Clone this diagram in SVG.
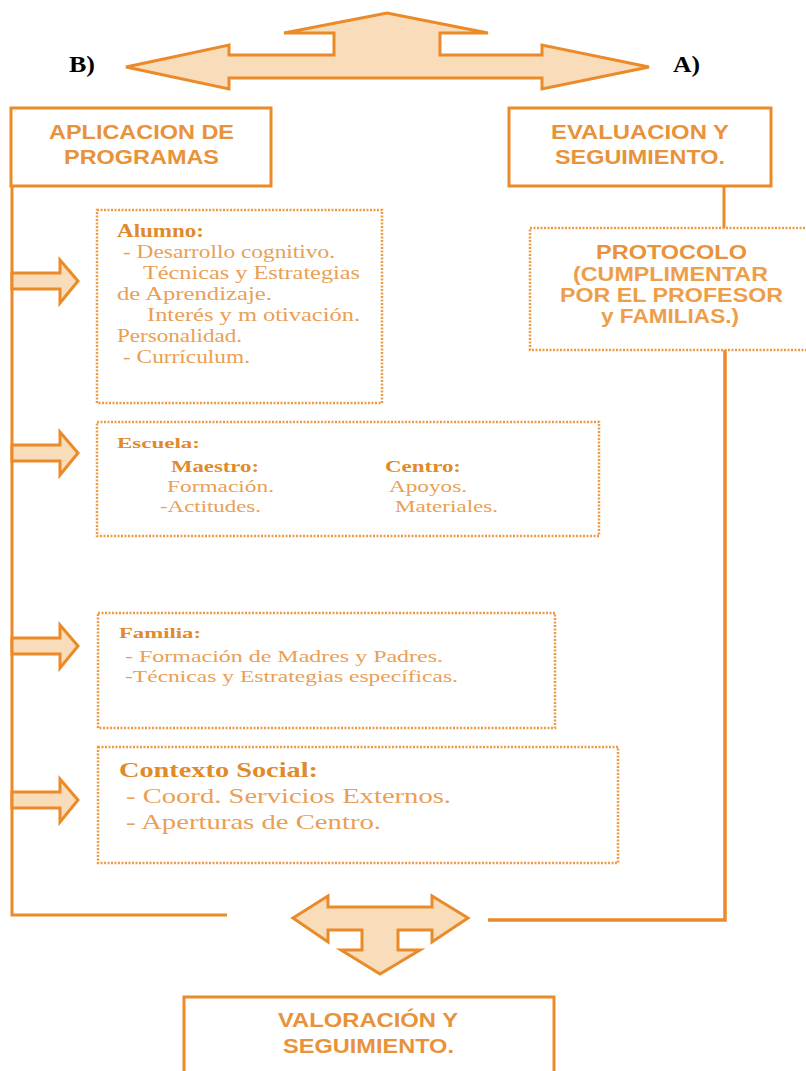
<svg xmlns="http://www.w3.org/2000/svg" width="806" height="1071" viewBox="0 0 806 1071">
<style>
.box{fill:none;stroke:#EA8A28;stroke-width:3}
.dot{fill:none;stroke:#EE9A45;stroke-width:2.5;stroke-dasharray:2 1.5}
.line{fill:none;stroke:#EA8A28;stroke-width:3}
.arr{fill:#F9DDBA;stroke:#EA8A28;stroke-width:3;stroke-linejoin:miter}
.hd{font-family:"Liberation Sans",Arial,sans-serif;font-weight:bold;font-size:21px;fill:#E8923A;text-anchor:start}
.pt{font-family:"Liberation Sans",Arial,sans-serif;font-weight:bold;font-size:20px;fill:#EE9E48}
.sb{font-family:"Liberation Serif","Times New Roman",serif;font-weight:bold;fill:#E08A2C}
.sr{font-family:"Liberation Serif","Times New Roman",serif;fill:#E9A055}
.lb{font-family:"Liberation Serif","Times New Roman",serif;font-weight:bold;font-size:23px;fill:#000}
</style>
<g id="top-arrow">
<polygon class="arr" points="126,67 229,45 229,55 334,55 334,33 284,33 387,13 488,33 440,33 440,55 542,55 542,45 649,67 542,89 542,78 229,78 229,89"/>
<text class="lb" x="69" y="72" textLength="26" lengthAdjust="spacingAndGlyphs">B)</text>
<text class="lb" x="673" y="72" textLength="27" lengthAdjust="spacingAndGlyphs">A)</text>
</g>
<g id="connectors">
<polyline class="line" points="12,186 12,915 227,915"/>
<polyline class="line" points="724,186 724,228"/>
<polyline class="line" points="725,350 725,920 488,920" style="stroke-width:3.5"/>
<polygon class="arr" points="12,273 60,273 60,260 78,281 60,303 60,289 12,289"/>
<polygon class="arr" points="12,445 60,445 60,432 78,453 60,475 60,461 12,461"/>
<polygon class="arr" points="12,638 60,638 60,625 78,646 60,668 60,654 12,654"/>
<polygon class="arr" points="12,792 60,792 60,779 78,800 60,822 60,808 12,808"/>
</g>
<g id="aplicacion">
<rect class="box" x="11" y="108" width="260" height="78"/>
<text class="hd" x="49" y="139" textLength="185" lengthAdjust="spacingAndGlyphs">APLICACION DE</text>
<text class="hd" x="64" y="164" textLength="155" lengthAdjust="spacingAndGlyphs">PROGRAMAS</text>
</g>
<g id="evaluacion">
<rect class="box" x="509" y="108" width="262" height="78"/>
<text class="hd" x="551" y="139" textLength="178" lengthAdjust="spacingAndGlyphs">EVALUACION Y</text>
<text class="hd" x="555" y="164" textLength="170" lengthAdjust="spacingAndGlyphs">SEGUIMIENTO.</text>
</g>
<g id="protocolo">
<rect class="dot" x="530" y="228" width="284" height="122"/>
<text class="hd" x="596" y="259" textLength="151" lengthAdjust="spacingAndGlyphs">PROTOCOLO</text>
<text class="pt" x="573" y="281" textLength="195" lengthAdjust="spacingAndGlyphs">(CUMPLIMENTAR</text>
<text class="pt" x="560" y="302" textLength="223" lengthAdjust="spacingAndGlyphs">POR EL PROFESOR</text>
<text class="pt" x="601" y="323" textLength="138" lengthAdjust="spacingAndGlyphs">y FAMILIAS.)</text>
</g>
<g id="alumno">
<rect class="dot" x="97" y="210" width="285" height="193"/>
<text class="sb" x="117" y="237" font-size="18" textLength="87" lengthAdjust="spacingAndGlyphs">Alumno:</text>
<text class="sr" x="123" y="258" font-size="18" textLength="212" lengthAdjust="spacingAndGlyphs">- Desarrollo cognitivo.</text>
<text class="sr" x="143" y="279" font-size="18" textLength="217" lengthAdjust="spacingAndGlyphs">Técnicas  y Estrategias</text>
<text class="sr" x="117" y="300" font-size="18" textLength="155" lengthAdjust="spacingAndGlyphs">de  Aprendizaje.</text>
<text class="sr" x="147" y="321" font-size="18" textLength="213" lengthAdjust="spacingAndGlyphs">Interés  y m otivación.</text>
<text class="sr" x="117" y="342" font-size="18" textLength="125" lengthAdjust="spacingAndGlyphs">Personalidad.</text>
<text class="sr" x="123" y="363" font-size="18" textLength="127" lengthAdjust="spacingAndGlyphs">- Currículum.</text>
</g>
<g id="escuela">
<rect class="dot" x="97" y="422" width="502" height="114"/>
<text class="sb" x="117" y="448" font-size="15" textLength="83" lengthAdjust="spacingAndGlyphs">Escuela:</text>
<text class="sb" x="171" y="472" font-size="17" textLength="88" lengthAdjust="spacingAndGlyphs">Maestro:</text>
<text class="sb" x="385" y="472" font-size="17" textLength="76" lengthAdjust="spacingAndGlyphs">Centro:</text>
<text class="sr" x="167" y="492" font-size="16" textLength="107" lengthAdjust="spacingAndGlyphs">Formación.</text>
<text class="sr" x="389" y="492" font-size="16" textLength="78" lengthAdjust="spacingAndGlyphs">Apoyos.</text>
<text class="sr" x="160" y="512" font-size="16" textLength="101" lengthAdjust="spacingAndGlyphs">-Actitudes.</text>
<text class="sr" x="395" y="512" font-size="16" textLength="103" lengthAdjust="spacingAndGlyphs">Materiales.</text>
</g>
<g id="familia">
<rect class="dot" x="98" y="613" width="457" height="115"/>
<text class="sb" x="119" y="638" font-size="15" textLength="82" lengthAdjust="spacingAndGlyphs">Familia:</text>
<text class="sr" x="125" y="662" font-size="17" textLength="318" lengthAdjust="spacingAndGlyphs">- Formación de Madres  y Padres.</text>
<text class="sr" x="125" y="682" font-size="17" textLength="333" lengthAdjust="spacingAndGlyphs">-Técnicas y Estrategias específicas.</text>
</g>
<g id="contexto">
<rect class="dot" x="98" y="747" width="520" height="116"/>
<text class="sb" x="119" y="777" font-size="22" textLength="199" lengthAdjust="spacingAndGlyphs">Contexto Social:</text>
<text class="sr" x="126" y="803" font-size="21" textLength="325" lengthAdjust="spacingAndGlyphs">- Coord. Servicios Externos.</text>
<text class="sr" x="126" y="829" font-size="21" textLength="255" lengthAdjust="spacingAndGlyphs">- Aperturas de Centro.</text>
</g>
<g id="bottom-arrow">
<polygon class="arr" points="293,918 328,896 328,907 432,907 432,896 468,918 432,942 432,930 398,930 398,950 420,950 380,974 341,950 362,950 362,930 328,930 328,942"/>
</g>
<g id="valoracion">
<rect class="box" x="184" y="997" width="370" height="90"/>
<text class="hd" x="278" y="1027" font-size="20" textLength="180" lengthAdjust="spacingAndGlyphs" style="font-size:20px">VALORACIÓN Y</text>
<text class="hd" x="283" y="1053" textLength="171" lengthAdjust="spacingAndGlyphs" style="font-size:20px">SEGUIMIENTO.</text>
</g>
</svg>
